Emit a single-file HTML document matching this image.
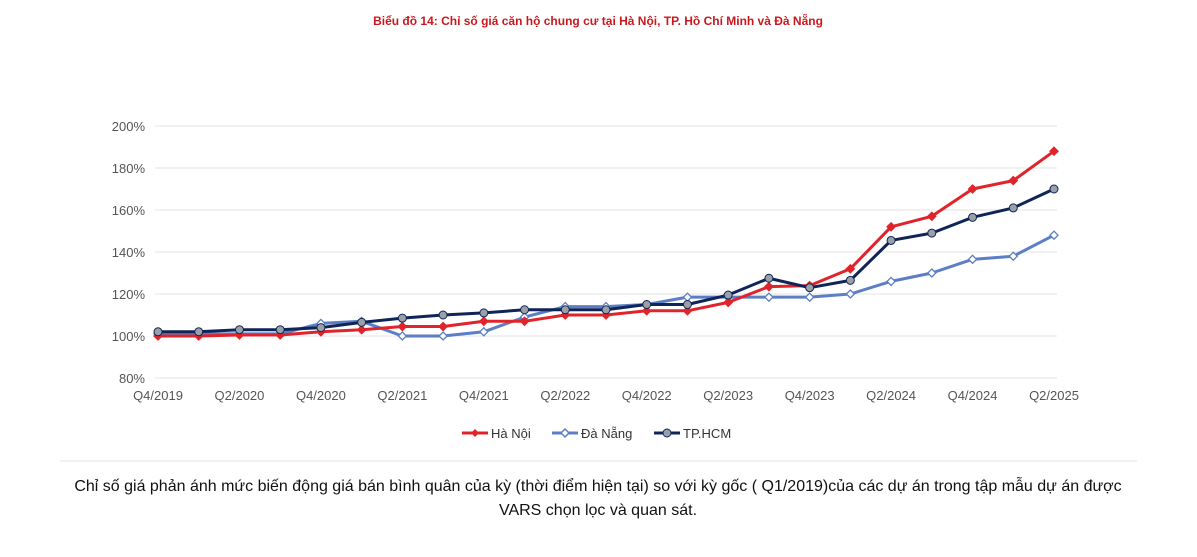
<!DOCTYPE html>
<html><head><meta charset="utf-8"><style>
body{margin:0;background:#fff;width:1197px;height:552px;overflow:hidden;font-family:"Liberation Sans",sans-serif}
</style></head><body>
<svg width="1197" height="552">
<text x="598" y="25" text-anchor="middle" font-size="12" font-weight="bold" fill="#c8191f">Biểu đồ 14: Chỉ số giá căn hộ chung cư tại Hà Nội, TP. Hồ Chí Minh và Đà Nẵng</text>
<g id="grid"></g><g id="xl"></g><g id="series"></g>
<line x1="60" y1="461" x2="1137" y2="461" stroke="#e6e6e6"/>
<g font-size="13" fill="#333">
<g><line x1="462" y1="433" x2="488" y2="433" stroke="#e0242b" stroke-width="3"/><path d="M475 429 L479 433 L475 437 L471 433Z" fill="#e0242b"/><text x="491" y="438">Hà Nội</text></g>
<g><line x1="552" y1="433" x2="578" y2="433" stroke="#5b7ec4" stroke-width="3"/><path d="M565 429 L569 433 L565 437 L561 433Z" fill="#fff" stroke="#5b7ec4" stroke-width="1.5"/><text x="581" y="438">Đà Nẵng</text></g>
<g><line x1="654" y1="433" x2="680" y2="433" stroke="#0f2557" stroke-width="3"/><circle cx="667" cy="433" r="4" fill="#9aa0a8" stroke="#0f2557"/><text x="683" y="438">TP.HCM</text></g>
</g>
<text x="598" y="491" text-anchor="middle" font-size="16" fill="#111">Chỉ số giá phản ánh mức biến động giá bán bình quân của kỳ (thời điểm hiện tại) so với kỳ gốc ( Q1/2019)của các dự án trong tập mẫu dự án được</text>
<text x="598" y="515" text-anchor="middle" font-size="16" fill="#111">VARS chọn lọc và quan sát.</text>
</svg>
<script>
const quarters=["Q4/2019","Q1/2020","Q2/2020","Q3/2020","Q4/2020","Q1/2021","Q2/2021","Q3/2021","Q4/2021","Q1/2022","Q2/2022","Q3/2022","Q4/2022","Q1/2023","Q2/2023","Q3/2023","Q4/2023","Q1/2024","Q2/2024","Q3/2024","Q4/2024","Q1/2025","Q2/2025"];
const haNoi=[100,100,100.5,100.5,102,103,104.5,104.5,107,107,110,110,112,112,116,123.5,124,132,152,157,170,174,188];
const daNang=[101,101,101,101,106,107,100,100,102,109,114,114,115,118.5,118.5,118.5,118.5,120,126,130,136.5,138,148];
const hcm=[102,102,103,103,104,106.5,108.5,110,111,112.5,112.5,112.5,115,115,119.5,127.5,123,126.5,145.5,149,156.5,161,170];
const yTicks=[80,100,120,140,160,180,200];
const NS="http://www.w3.org/2000/svg";
const X=i=>158+i*(896/22), Y=v=>378-(v-80)*2.1;
function mk(t,a,p){const e=document.createElementNS(NS,t);for(const k in a)e.setAttribute(k,a[k]);p.appendChild(e);return e;}
const grid=document.getElementById('grid');
yTicks.forEach(v=>{
 const l=mk('line',{x1:155,x2:1057,y1:Y(v),y2:Y(v),stroke:'#e3e3e3'},grid);
 
 
 const t=mk('text',{x:145,y:Y(v)+5,'text-anchor':'end','font-size':13,fill:'#555'},grid);t.textContent=v+'%';
 
 
});
const xl=document.getElementById('xl');
quarters.forEach((q,i)=>{if(i%2)return;
 const t=mk('text',{x:X(i),y:400,'text-anchor':'middle','font-size':13,fill:'#555'},xl);t.textContent=q;
 
 
});
const sg=document.getElementById('series');
function draw(data,color,mark,name){
 const g=mk('g',{},sg);
 
 
 mk('polyline',{points:data.map((v,i)=>X(i)+','+Y(v)).join(' '),fill:'none',stroke:color,'stroke-width':3,'stroke-linejoin':'round'},g);
 data.forEach((v,i)=>{let m;const x=X(i),y=Y(v);
  if(mark==='c')m=mk('circle',{cx:x,cy:y,r:4,fill:'#9aa0a8',stroke:color,'stroke-width':1},g);
  else m=mk('path',{d:`M${x} ${y-4}L${x+4} ${y}L${x} ${y+4}L${x-4} ${y}Z`,fill:mark==='o'?'#fff':color,stroke:color,'stroke-width':1.3},g);
  
  
 });
}
draw(daNang,'#5b7ec4','o','series-da-nang');
draw(haNoi,'#e0242b','f','series-ha-noi');
draw(hcm,'#0f2557','c','series-tphcm');
</script>
</body></html>
